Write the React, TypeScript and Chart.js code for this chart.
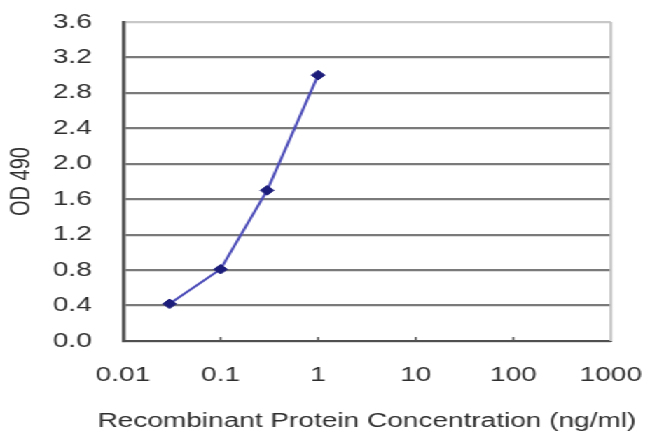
import React, { useEffect, useRef } from "react";
import { Chart, registerables } from "chart.js";

Chart.register(...registerables);

// Data
const concentrations = [0.03, 0.1, 0.3, 1];
const odValues = [0.42, 0.81, 1.7, 3.0];
const xTickValues = [0.01, 0.1, 1, 10, 100, 1000];
const xTickLabels = ["0.01", "0.1", "1", "10", "100", "1000"];
const yTickValues = [0, 0.4, 0.8, 1.2, 1.6, 2.0, 2.4, 2.8, 3.2, 3.6];
const xTitle = "Recombinant Protein Concentration (ng/ml)";
const yTitle = "OD 490";

const INNER_W = 464;
const INNER_H = 442;
const STRETCH = 650 / INNER_W;
const FONT = "'Liberation Sans', Arial, sans-serif";
const FONT_SIZE = 20;
const TEXT = "#2e2e2e";

// Draws the plot frame's right edge, the small axis ticks and the x-axis title
// (drawn here so the title is not squeezed to the plot width).
const framePlugin = {
  id: "frame",
  afterDatasetsDraw(chart: any) {
    const { ctx, chartArea, scales } = chart;
    const x = scales.x;
    ctx.save();
    ctx.strokeStyle = "#c4c4c4";
    ctx.lineWidth = 2;
    ctx.beginPath();
    ctx.moveTo(chartArea.right, chartArea.top);
    ctx.lineTo(chartArea.right, chartArea.bottom);
    ctx.stroke();
    ctx.strokeStyle = "#555";
    ctx.lineWidth = 1.5;
    xTickValues.slice(1, -1).forEach((v) => {
      const px = x.getPixelForValue(v);
      ctx.beginPath();
      ctx.moveTo(px, chartArea.bottom);
      ctx.lineTo(px, chartArea.bottom - 4);
      ctx.stroke();
    });
    ctx.fillStyle = TEXT;
    ctx.font = `${FONT_SIZE}px ${FONT}`;
    ctx.textAlign = "center";
    ctx.textBaseline = "alphabetic";
    ctx.fillText(xTitle, (chartArea.left + chartArea.right) / 2, x.bottom - 15);
    ctx.restore();
  },
};

export default function App() {
  const ref = useRef<HTMLCanvasElement | null>(null);

  useEffect(() => {
    if (!ref.current) return;
    const chart = new Chart(ref.current, {
      type: "line",
      data: {
        datasets: [
          {
            data: concentrations.map((c, i) => ({ x: c, y: odValues[i] })),
            borderColor: "#4b4bb8",
            borderWidth: 2,
            backgroundColor: "#1c1c7a",
            pointBackgroundColor: "#1c1c7a",
            pointBorderColor: "#1c1c7a",
            pointStyle: "rectRot",
            pointRadius: 4.8,
            pointBorderWidth: 1,
            tension: 0,
            fill: false,
          },
        ],
      },
      options: {
        responsive: false,
        animation: false,
        devicePixelRatio: 1,
        layout: { padding: { top: 22, right: 27.9, left: 0, bottom: 0 } },
        plugins: {
          legend: { display: false },
          tooltip: { enabled: false },
        },
        scales: {
          x: {
            type: "logarithmic",
            min: 0.01,
            max: 1000,
            afterBuildTicks: (scale: any) => {
              scale.ticks = xTickValues.map((v) => ({ value: v }));
            },
            afterFit: (scale: any) => {
              scale.height = 101;
              scale.paddingLeft = 0;
              scale.paddingRight = 0;
            },
            grid: { display: false, drawTicks: false },
            border: { display: true, color: "#505050", width: 2 },
            ticks: {
              autoSkip: false,
              maxRotation: 0,
              padding: 22,
              color: TEXT,
              font: { family: FONT, size: FONT_SIZE },
              callback: (_v: any, i: number) => xTickLabels[i],
            },
            title: { display: false },
          },
          y: {
            min: 0,
            max: 3.6,
            afterBuildTicks: (scale: any) => {
              scale.ticks = yTickValues.map((v) => ({ value: v }));
            },
            afterFit: (scale: any) => {
              scale.width = 87.8;
              scale.paddingTop = 0;
              scale.paddingBottom = 0;
            },
            grid: {
              drawTicks: false,
              lineWidth: 2.2,
              color: (c: any) =>
                c.tick && c.tick.value >= 3.6 ? "#c8c8c8" : "#7a7a7a",
            },
            border: { display: true, color: "#505050", width: 2.6 },
            ticks: {
              padding: 22.3,
              color: TEXT,
              font: { family: FONT, size: FONT_SIZE },
              callback: (v: any) => Number(v).toFixed(1),
            },
            title: {
              display: true,
              text: yTitle,
              color: TEXT,
              font: { family: FONT, size: FONT_SIZE },
              padding: { top: 3, bottom: 0 },
            },
          },
        },
      },
      plugins: [framePlugin],
    } as any);
    return () => chart.destroy();
  }, []);

  return (
    <div
      style={{
        position: "fixed",
        left: 0,
        top: 0,
        width: INNER_W,
        height: INNER_H,
        background: "#fff",
        transform: `scaleX(${STRETCH})`,
        transformOrigin: "0 0",
      }}
    >
      <canvas ref={ref} width={INNER_W} height={INNER_H} />
    </div>
  );
}
